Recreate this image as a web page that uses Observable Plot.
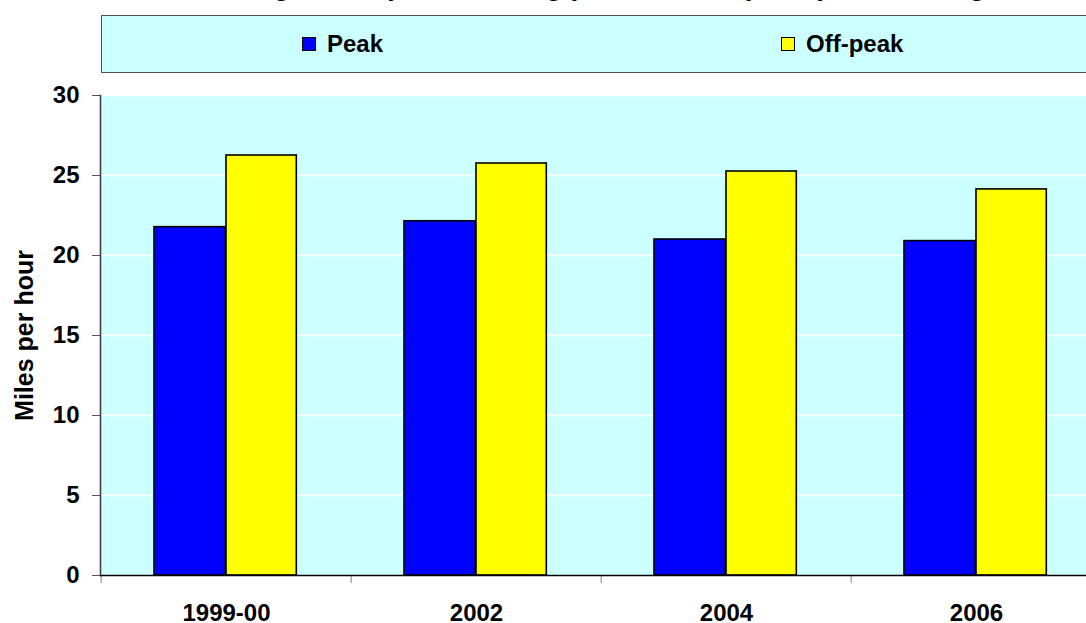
<!DOCTYPE html>
<html>
<head>
<meta charset="utf-8">
<script src="https://cdn.jsdelivr.net/npm/d3@7"></script>
<script src="https://cdn.jsdelivr.net/npm/@observablehq/plot@0.6"></script>
<style>
  html, body { margin: 0; padding: 0; background: #ffffff; }
  #wrap { position: relative; width: 1086px; height: 623px; overflow: hidden; font-family: "Liberation Sans", Arial, sans-serif; font-weight: bold; }
  #title { position: absolute; left: 0; width: 1240px; top: -28px; font-size: 28px; line-height: 28px; text-align: center; white-space: nowrap; color: #000; }
  #legend { position: absolute; left: 101px; top: 15px; width: 1100px; height: 56px; background: #CCFFFF; border: 1.5px solid #4d4d4d; box-sizing: content-box; }
  .item { position: absolute; top: 0; height: 56px; display: flex; align-items: center; font-size: 24px; color: #000; }
  .sw { width: 12px; height: 12px; border: 1.5px solid #000; margin-right: 11px; }
  #chart { position: absolute; left: 0; top: 0; }
</style>
</head>
<body>
<div id="wrap">
  <div id="title">Average bus speeds during peak and off-peak periods, England</div>
  <div id="legend"></div>
  <div id="chart"></div>
</div>
<script>
const years = ["1999-00", "2002", "2004", "2006"];
const peak = [21.77, 22.14, 21.0, 20.9];
const offPeak = [26.25, 25.75, 25.25, 24.13];
const seriesNames = ["Peak", "Off-peak"];
const seriesColors = ["#0000FF", "#FFFF00"];
const yTicks = [0, 5, 10, 15, 20, 25, 30];

const data = [];
years.forEach((y, i) => {
  data.push({year: y, series: "Peak", value: peak[i]});
  data.push({year: y, series: "Off-peak", value: offPeak[i]});
});

// legend
const legendPos = [200, 679];
const legend = document.getElementById("legend");
seriesNames.forEach((s, i) => {
  const it = document.createElement("div");
  it.className = "item";
  it.style.left = legendPos[i] + "px";
  const sw = document.createElement("div");
  sw.className = "sw";
  sw.style.background = seriesColors[i];
  it.appendChild(sw);
  const t = document.createElement("span");
  t.textContent = s;
  it.appendChild(t);
  legend.appendChild(it);
});

const x0 = 100, bw = 250.7;
const xRange = [x0, x0 + bw * years.length];

const chart = Plot.plot({
  width: 1086,
  height: 623,
  marginLeft: 100,
  marginRight: 0,
  marginTop: 95,
  marginBottom: 48,
  style: {fontFamily: '"Liberation Sans", Arial, sans-serif', fontSize: "24px", fontWeight: "bold", color: "#000", background: "transparent", overflow: "visible"},
  x: {type: "band", domain: years, range: xRange, padding: 0},
  y: {domain: [0, 30], ticks: yTicks},
  color: {domain: seriesNames, range: seriesColors},
  marks: [
    Plot.frame({fill: "#CCFFFF", stroke: "none"}),
    Plot.gridY(yTicks.filter(d => d > 0), {stroke: "#ffffff", strokeOpacity: 1, strokeWidth: 1.6}),
    Plot.barY(data.filter(d => d.series === "Peak"), {x: "year", y: "value", fill: "series", stroke: "#000", strokeWidth: 1.6, insetLeft: 53, insetRight: 125.7}),
    Plot.barY(data.filter(d => d.series === "Off-peak"), {x: "year", y: "value", fill: "series", stroke: "#000", strokeWidth: 1.6, insetLeft: 125, insetRight: 54.7}),
    Plot.axisY({ticks: yTicks, tickSize: 8, tickPadding: 13, stroke: "#555", label: null, fontSize: 24, fontWeight: "bold"}),
    Plot.axisX({tickSize: 8, tickFormat: () => "", dx: -bw / 2, stroke: "#808080", label: null}),
    Plot.axisX({tickSize: 0, tickPadding: 28, label: null, fontSize: 24, fontWeight: "bold"}),
    Plot.frame({anchor: "left", stroke: "#404040", strokeWidth: 1.6}),
    Plot.ruleY([0], {stroke: "#000", strokeWidth: 1.6}),
    Plot.text(["Miles per hour"], {frameAnchor: "left", dx: -76, rotate: -90, textAnchor: "middle", fontSize: 25, fontWeight: "bold", fill: "#000"})
  ]
});
document.getElementById("chart").appendChild(chart);
</script>
</body>
</html>
